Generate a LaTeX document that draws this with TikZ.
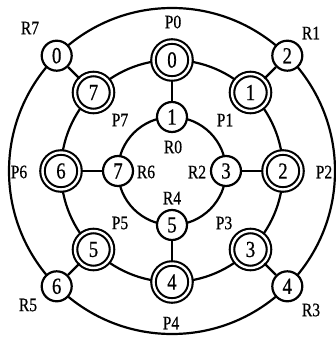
\documentclass[tikz,border=0pt]{standalone}
\usepackage{fontspec}
\setmainfont{Liberation Serif}
\newfontfamily\labfont[FakeStretch=0.82,FakeBold=0.6]{Liberation Serif}
\begin{document}
\begin{tikzpicture}[x=1pt,y=-1pt,line width=2.2pt,
  snode/.style={circle,draw,fill=white,minimum size=30pt,inner sep=0pt,font=\labfont\fontsize{23}{23}\selectfont},
  dnode/.style={circle,draw,fill=white,minimum size=37pt,inner sep=0pt,double,double distance=2.4pt,line width=2.1pt,font=\labfont\fontsize{23}{23}\selectfont},
  lab/.style={font=\labfont\fontsize{19}{19}\selectfont,inner sep=0pt}]
\useasboundingbox (0,0) rectangle (336,337);
\coordinate (c) at (172,171);
% rings
\draw (c) circle[radius=163];
\draw (c) circle[radius=111];
\draw (c) circle[radius=54];
% outer nodes
\node[snode] (o7) at (56.7,55.7) {0};
\node[snode] (o1) at (287.3,55.7) {2};
\node[snode] (o3) at (287.3,286.3) {4};
\node[snode] (o5) at (56.7,286.3) {6};
% middle nodes
\node[dnode] (p0) at (172,60) {0};
\node[dnode] (p1) at (250.5,92.5) {1};
\node[dnode] (p2) at (283,171) {2};
\node[dnode] (p3) at (250.5,249.5) {3};
\node[dnode] (p4) at (172,282) {4};
\node[dnode] (p5) at (93.5,249.5) {5};
\node[dnode] (p6) at (61,171) {6};
\node[dnode] (p7) at (93.5,92.5) {7};
% inner nodes
\node[snode] (r0) at (172,117) {1};
\node[snode] (r2) at (226,171) {3};
\node[snode] (r4) at (172,225) {5};
\node[snode] (r6) at (118,171) {7};
% spokes
\draw (o7) -- (p7);
\draw (o1) -- (p1);
\draw (o3) -- (p3);
\draw (o5) -- (p5);
\draw (p0) -- (r0);
\draw (p2) -- (r2);
\draw (p4) -- (r4);
\draw (p6) -- (r6);
% labels
\node[lab] (lp0) at (173,22) {P0};
\node[lab] (lr1) at (311,33) {R1};
\node[lab] (lr7) at (30,28) {R7};
\node[lab] (lp1) at (225,120) {P1};
\node[lab] (lp7) at (120,120) {P7};
\node[lab] (lr0) at (173,147) {R0};
\node[lab] (lr6) at (146,172) {R6};
\node[lab] (lr2) at (197,172) {R2};
\node[lab] (lp6) at (19,172) {P6};
\node[lab] (lp2) at (324,172) {P2};
\node[lab] (lr4) at (172,198) {R4};
\node[lab] (lp5) at (120,223) {P5};
\node[lab] (lp3) at (224,223) {P3};
\node[lab] (lr5) at (28,305) {R5};
\node[lab] (lr3) at (311,310) {R3};
\node[lab] (lp4) at (171,323) {P4};
\end{tikzpicture}
\end{document}
